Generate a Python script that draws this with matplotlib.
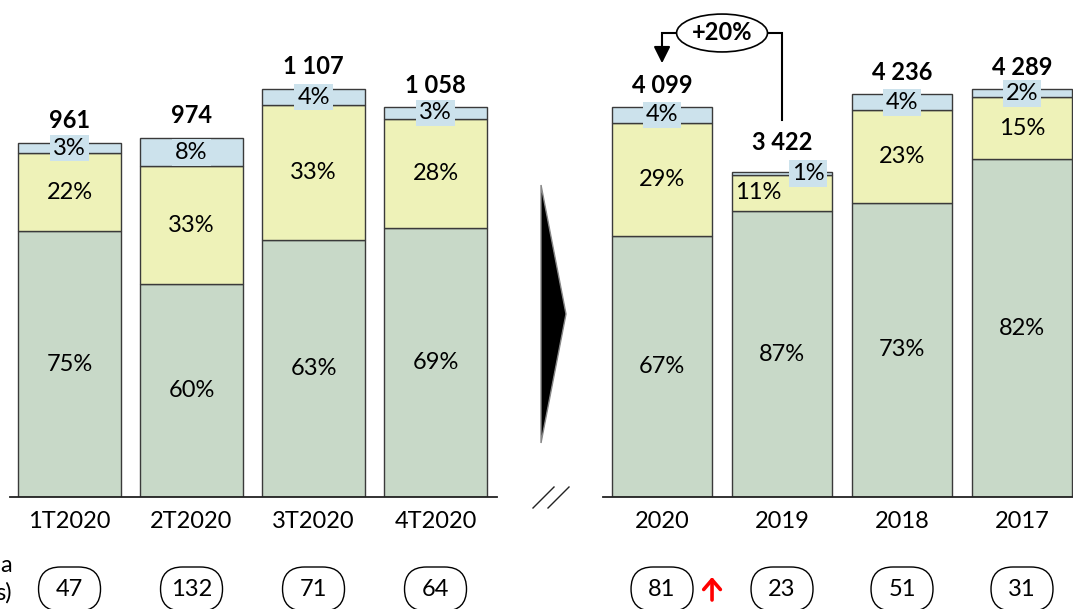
import matplotlib.pyplot as plt
from matplotlib import transforms
from matplotlib.patches import FancyBboxPatch, Polygon
from matplotlib.lines import Line2D

plt.rcParams['font.family'] = ['Lato', 'DejaVu Sans']

# quarterly figures
quarters = ['1T2020', '2T2020', '3T2020', '4T2020']
q_totals = [961, 974, 1107, 1058]
q_green = [75, 60, 63, 69]
q_yellow = [22, 33, 33, 28]
q_blue = [3, 8, 4, 3]
q_counts = [47, 132, 71, 64]

# yearly figures
years = ['2020', '2019', '2018', '2017']
y_totals = [4099, 3422, 4236, 4289]
y_green = [67, 87, 73, 82]
y_yellow = [29, 11, 23, 15]
y_blue = [4, 1, 4, 2]
y_counts = [81, 23, 51, 31]
growth = '+20%'

GREEN = '#C8D9C8'
YELLOW = '#EEF2B8'
BLUE = '#CCE2EC'
EDGE = '#3a3a3a'
FS = 17

W, H = 1073, 609
fig = plt.figure(figsize=(W / 100, H / 100), dpi=100)
PT = 0.72  # points per pixel at 100 dpi


def fmt(v):
    return f'{v:,}'.replace(',', ' ')


def panel(rect, ppu, xlim, labels, totals, green, yellow, blue, counts,
          width, shifts=None):
    shifts = shifts or {}
    ax = fig.add_axes(rect)
    ax.set_xlim(*xlim)
    ax.set_ylim(0, 497 / ppu)
    x = list(range(len(labels)))
    hg, hy, hb = [], [], []
    for t, g, y, b in zip(totals, green, yellow, blue):
        s = g + y + b
        hg.append(t * g / s)
        hy.append(t * y / s)
        hb.append(t * b / s)
    bot2 = [a + b for a, b in zip(hg, hy)]
    ax.bar(x, hg, width, color=GREEN, edgecolor=EDGE, lw=1)
    ax.bar(x, hy, width, bottom=hg, color=YELLOW, edgecolor=EDGE, lw=1)
    ax.bar(x, hb, width, bottom=bot2, color=BLUE, edgecolor=EDGE, lw=1)

    for i in x:
        sh = shifts.get(i, {})
        ax.annotate(f'{green[i]}%', (i, hg[i] / 2), ha='center', va='center',
                    fontsize=FS)
        ax.annotate(f'{yellow[i]}%', (i, hg[i] + hy[i] / 2),
                    xytext=(sh.get('yellow', 0) * PT, 0),
                    textcoords='offset points', ha='center', va='center',
                    fontsize=FS)
        ax.annotate(f'{blue[i]}%', (i, bot2[i] + hb[i] / 2),
                    xytext=(sh.get('blue', 0) * PT, 0),
                    textcoords='offset points', ha='center', va='center',
                    fontsize=FS,
                    bbox=dict(boxstyle='square,pad=0.12', fc=BLUE, ec='none'))
        ax.annotate(fmt(totals[i]), (i, totals[i]),
                    xytext=(0, (22 + sh.get('total', 0)) * PT),
                    textcoords='offset points', ha='center', va='center',
                    fontsize=FS, fontweight='bold')

        # count bubbles under each bar
        trans = fig.dpi_scale_trans + transforms.ScaledTranslation(i, 0, ax.transData)
        fig.add_artist(FancyBboxPatch((-0.31, -1.14), 0.62, 0.44,
                                      boxstyle='round,pad=0,rounding_size=0.22',
                                      fc='white', ec='black', lw=1,
                                      transform=trans))
        fig.text(0, -0.92, str(counts[i]), transform=trans, ha='center',
                 va='center', fontsize=FS)

    ax.set_xticks(x, labels, fontsize=FS)
    ax.tick_params(axis='x', length=0, pad=10)
    ax.set_yticks([])
    for side in ('top', 'right', 'left'):
        ax.spines[side].set_visible(False)
    ax.spines['bottom'].set_color('#222222')
    ax.spines['bottom'].set_linewidth(1.3)
    return ax


ax1 = panel([10 / W, 112 / H, 487 / W, 497 / H], 0.3686, (-0.488, 3.504),
            quarters, q_totals, q_green, q_yellow, q_blue, q_counts, 0.844)

ppu2 = 0.0951
ax2 = panel([603 / W, 112 / H, 470 / W, 497 / H], ppu2, (-0.492, 3.425),
            years, y_totals, y_green, y_yellow, y_blue, y_counts, 0.833,
            shifts={1: {'yellow': -24, 'blue': 26, 'total': 7}})

# growth bracket between 2020 and 2019
yb = (497 - 33) / ppu2
tip = y_totals[0] + 44 / ppu2
end = y_totals[1] + 52 / ppu2
ax2.plot([0, 0, 1, 1], [tip + 10 / ppu2, yb, yb, end], color='black', lw=1.5,
         clip_on=False, solid_joinstyle='miter')
ax2.annotate('', xy=(0, tip), xytext=(0, tip + 14 / ppu2),
             arrowprops=dict(arrowstyle='-|>,head_length=0.5,head_width=0.25',
                             mutation_scale=20, color='black', lw=1.5,
                             shrinkA=0, shrinkB=0), annotation_clip=False)
ax2.text(0.5, yb, growth, ha='center', va='center', fontsize=FS,
         fontweight='bold', clip_on=False,
         bbox=dict(boxstyle='ellipse,pad=0.08', fc='white', ec='black', lw=1.2))

# red arrow next to the 2020 bubble
trans = fig.dpi_scale_trans + transforms.ScaledTranslation(0, 0, ax2.transData)
ax2.annotate('', xy=(0.5, -0.8), xycoords=trans, xytext=(0.5, -1.03),
             textcoords=trans, annotation_clip=False,
             arrowprops=dict(arrowstyle='->,head_length=0.35,head_width=0.3',
                             mutation_scale=20, color='#FF0000', lw=2.6,
                             shrinkA=0, shrinkB=0))

# separator arrow and axis break marks
fig.add_artist(Polygon([[541 / W, 1 - 185 / H], [566 / W, 1 - 314 / H],
                        [541 / W, 1 - 443 / H]], closed=True,
                       transform=fig.transFigure, fc='black', ec='#888888', lw=1))
for x0 in (533, 548):
    fig.add_artist(Line2D([x0 / W, (x0 + 21) / W], [1 - 508 / H, 1 - 487 / H],
                          transform=fig.transFigure, color='#222222', lw=1))

# truncated row caption
fig.text(12 / W, 1 - 566 / H, 'a', ha='right', va='center', fontsize=FS)
fig.text(12 / W, 1 - 593 / H, 's)', ha='right', va='center', fontsize=FS)

fig.savefig('out.png', dpi=100)
